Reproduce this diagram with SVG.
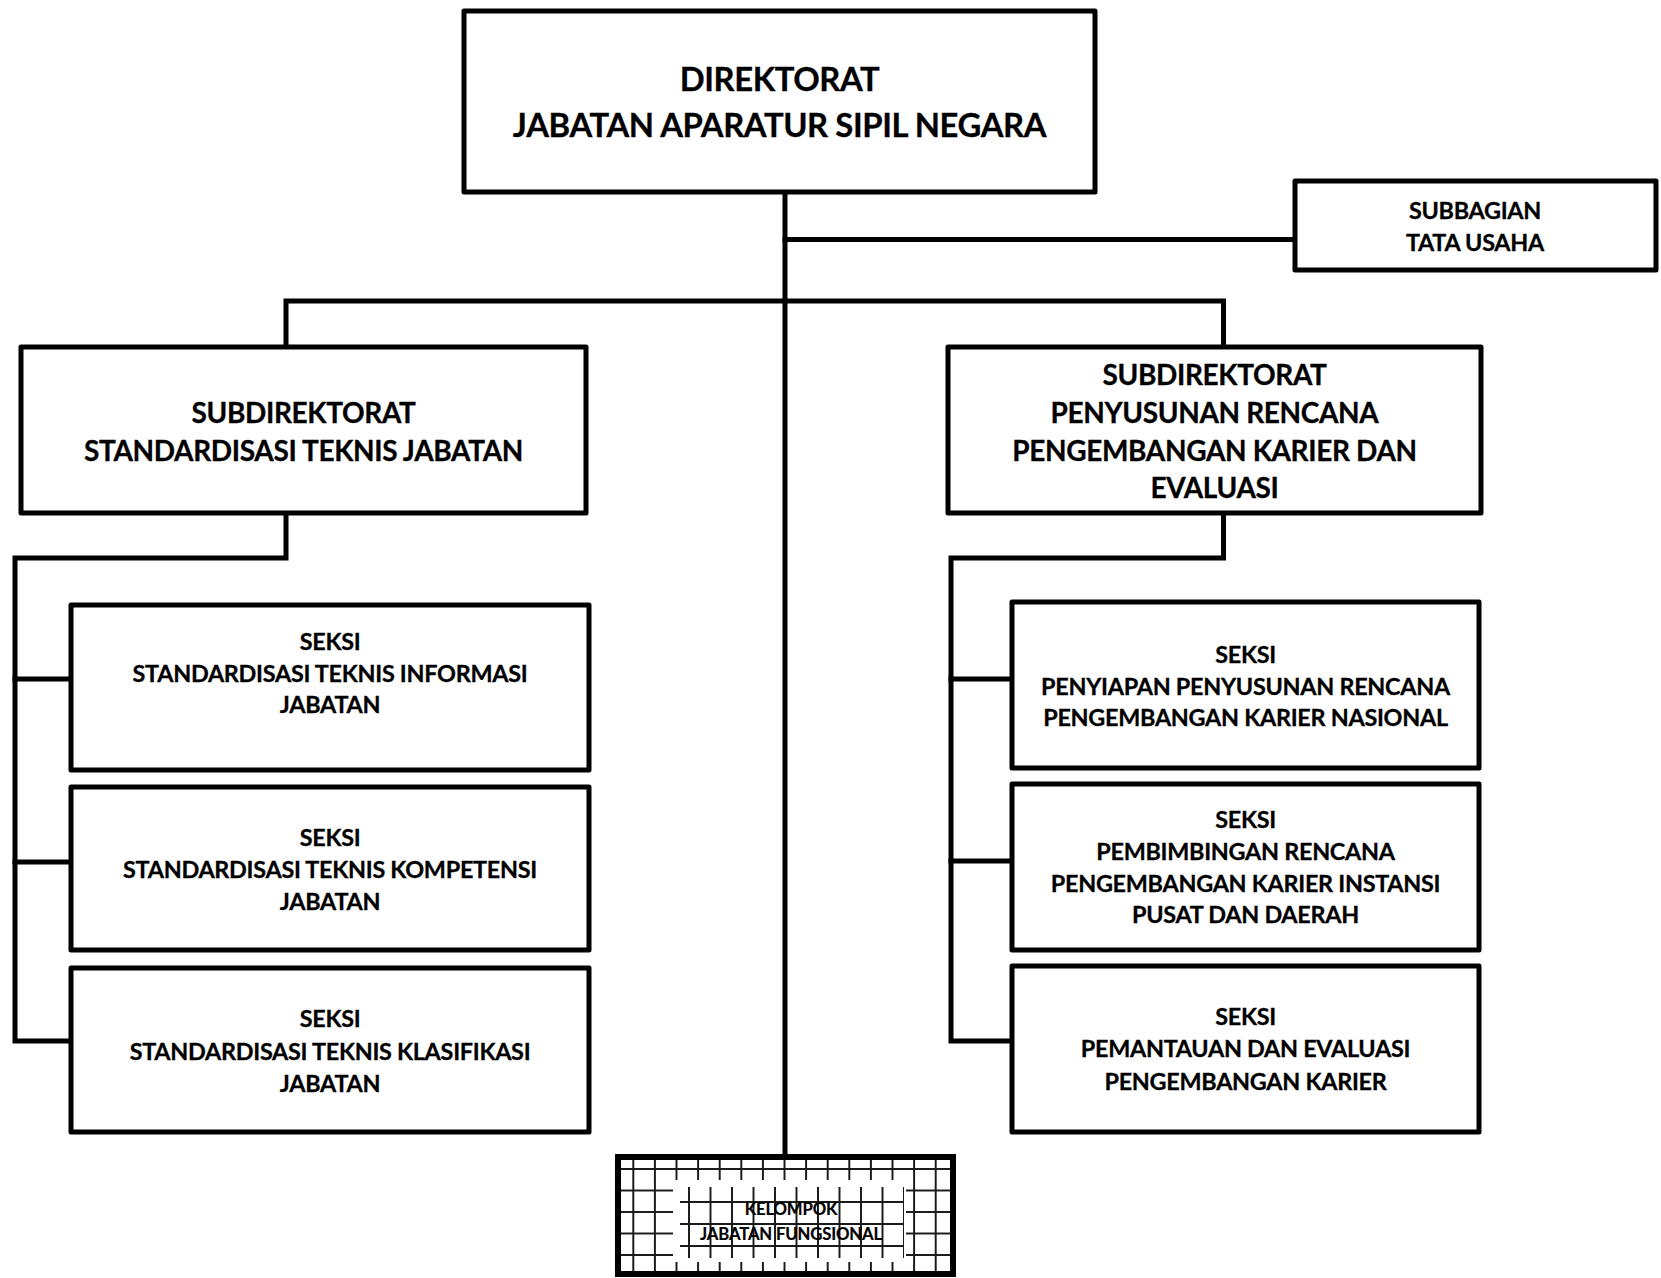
<svg xmlns="http://www.w3.org/2000/svg" width="1661" height="1278" viewBox="0 0 1661 1278">
  <defs>
    <style>
      .box { fill: #ffffff; stroke: #000000; stroke-width: 5; stroke-linejoin: round; }
      .line { fill: none; stroke: #000000; stroke-width: 5; stroke-linecap: square; stroke-linejoin: miter; }
      text { font-family: Lato, "Open Sans", "Liberation Sans", sans-serif; font-weight: bold; fill: #000000; stroke: #000000; stroke-width: 0.3; text-anchor: middle; }
      .t-top { font-size: 32.8px; letter-spacing: -0.4px; }
      .t-sub { font-size: 28px; letter-spacing: -0.35px; }
      .t-sek { font-size: 23.4px; letter-spacing: -0.28px; }
      .t-fun { font-size: 16.7px; letter-spacing: -0.15px; stroke-width: 0.2; }
      .grid { stroke: #1a1a1a; stroke-width: 2; }
    </style>
    <!-- large-grid fill of the functional group box -->
    <pattern id="gridOuter" patternUnits="userSpaceOnUse" x="622.5" y="1158.25" width="21.6" height="21.5">
      <line class="grid" x1="10.8" y1="0" x2="10.8" y2="21.5"/>
      <line class="grid" x1="0" y1="10.75" x2="21.6" y2="10.75"/>
    </pattern>
    <pattern id="gridInner" patternUnits="userSpaceOnUse" x="678.25" y="1191" width="21.5" height="22">
      <line class="grid" x1="10.75" y1="0" x2="10.75" y2="22"/>
      <line class="grid" x1="0" y1="11" x2="21.5" y2="11"/>
    </pattern>
  </defs>

  <!-- connectors -->
  <g id="connectors">
    <!-- trunk from the directorate down to the functional group -->
    <line class="line" x1="785" y1="192" x2="785" y2="1157"/>
    <!-- administration sub-section -->
    <line class="line" x1="785" y1="239.5" x2="1295" y2="239.5"/>
    <!-- bar feeding both sub-directorates -->
    <polyline class="line" points="286,347 286,301 1223.5,301 1223.5,347"/>
    <!-- left sub-directorate to its sections -->
    <polyline class="line" points="286,513 286,558 15,558 15,1041 71,1041"/>
    <line class="line" x1="15" y1="679" x2="71" y2="679"/>
    <line class="line" x1="15" y1="862" x2="71" y2="862"/>
    <!-- right sub-directorate to its sections -->
    <polyline class="line" points="1223.5,513 1223.5,558 951,558 951,1041 1012,1041"/>
    <line class="line" x1="951" y1="679" x2="1012" y2="679"/>
    <line class="line" x1="951" y1="861" x2="1012" y2="861"/>
  </g>

  <g id="direktorat">
    <rect class="box" x="464" y="11" width="631" height="181"/>
    <text class="t-top" x="779.5" y="91">DIREKTORAT</text>
    <text class="t-top" x="779.5" y="137">JABATAN APARATUR SIPIL NEGARA</text>
  </g>

  <g id="subbagian-tu">
    <rect class="box" x="1295" y="181" width="361" height="89" stroke-width="4.5"/>
    <text class="t-sek" x="1475" y="219">SUBBAGIAN</text>
    <text class="t-sek" x="1475" y="251">TATA USAHA</text>
  </g>

  <g id="subdit-standardisasi">
    <rect class="box" x="21" y="347" width="565" height="166"/>
    <text class="t-sub" x="303.5" y="423">SUBDIREKTORAT</text>
    <text class="t-sub" x="303.5" y="460.5">STANDARDISASI TEKNIS JABATAN</text>
  </g>

  <g id="subdit-karier">
    <rect class="box" x="948" y="347" width="533" height="166"/>
    <text class="t-sub" x="1214.5" y="385">SUBDIREKTORAT</text>
    <text class="t-sub" x="1214.5" y="423">PENYUSUNAN RENCANA</text>
    <text class="t-sub" x="1214.5" y="460.5">PENGEMBANGAN KARIER DAN</text>
    <text class="t-sub" x="1214.5" y="498">EVALUASI</text>
  </g>

  <g id="seksi-informasi">
    <rect class="box" x="71" y="605" width="518" height="165"/>
    <text class="t-sek" x="330" y="650">SEKSI</text>
    <text class="t-sek" x="330" y="681.5">STANDARDISASI TEKNIS INFORMASI</text>
    <text class="t-sek" x="330" y="713">JABATAN</text>
  </g>

  <g id="seksi-kompetensi">
    <rect class="box" x="71" y="787" width="518" height="163"/>
    <text class="t-sek" x="330" y="846">SEKSI</text>
    <text class="t-sek" x="330" y="878">STANDARDISASI TEKNIS KOMPETENSI</text>
    <text class="t-sek" x="330" y="910">JABATAN</text>
  </g>

  <g id="seksi-klasifikasi">
    <rect class="box" x="71" y="968" width="518" height="164"/>
    <text class="t-sek" x="330" y="1027">SEKSI</text>
    <text class="t-sek" x="330" y="1059.5">STANDARDISASI TEKNIS KLASIFIKASI</text>
    <text class="t-sek" x="330" y="1091.5">JABATAN</text>
  </g>

  <g id="seksi-penyiapan">
    <rect class="box" x="1012" y="602" width="467" height="166"/>
    <text class="t-sek" x="1245.5" y="663">SEKSI</text>
    <text class="t-sek" x="1245.5" y="694.5">PENYIAPAN PENYUSUNAN RENCANA</text>
    <text class="t-sek" x="1245.5" y="726">PENGEMBANGAN KARIER NASIONAL</text>
  </g>

  <g id="seksi-pembimbingan">
    <rect class="box" x="1012" y="784" width="467" height="166"/>
    <text class="t-sek" x="1245.5" y="828">SEKSI</text>
    <text class="t-sek" x="1245.5" y="860">PEMBIMBINGAN RENCANA</text>
    <text class="t-sek" x="1245.5" y="891.5">PENGEMBANGAN KARIER INSTANSI</text>
    <text class="t-sek" x="1245.5" y="923">PUSAT DAN DAERAH</text>
  </g>

  <g id="seksi-pemantauan">
    <rect class="box" x="1012" y="966" width="467" height="166"/>
    <text class="t-sek" x="1245.5" y="1025">SEKSI</text>
    <text class="t-sek" x="1245.5" y="1057">PEMANTAUAN DAN EVALUASI</text>
    <text class="t-sek" x="1245.5" y="1089.5">PENGEMBANGAN KARIER</text>
  </g>

  <g id="kelompok-jf">
    <rect x="618" y="1157" width="335" height="117" fill="url(#gridOuter)"/>
    <rect x="673" y="1180" width="233" height="82" fill="#ffffff"/>
    <rect x="680" y="1187" width="224" height="71" fill="url(#gridInner)"/>
    <rect x="618" y="1157" width="335" height="117" fill="none" stroke="#000000" stroke-width="6"/>
    <text class="t-fun" x="791" y="1215">KELOMPOK</text>
    <text class="t-fun" x="791" y="1240">JABATAN FUNGSIONAL</text>
  </g>
</svg>
